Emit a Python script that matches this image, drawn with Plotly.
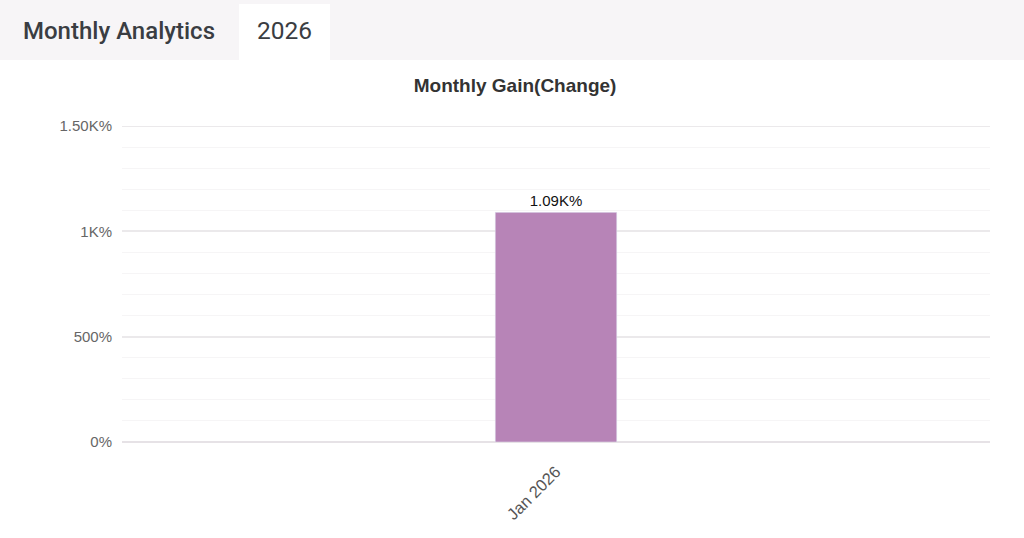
import plotly.graph_objects as go

months = ["Jan 2026"]
gain = [1090]
labels = ["1.09K%"]
tick_vals = [0, 500, 1000, 1500]
tick_text = ["0%", "500%", "1K%", "1.50K%"]

W, H = 1024, 538
L, R, T, B = 122, 34, 126, 96


# pixel -> paper helpers for the header strip
def px_x(p):
    return (p - L) / (W - L - R)


def px_y(p):
    return (H - B - p) / (H - T - B)


fig = go.Figure()
fig.add_trace(go.Bar(
    x=months,
    y=gain,
    text=labels,
    texttemplate="%{text}",
    textposition="outside",
    textfont=dict(family="Arial", size=15, color="#111"),
    marker=dict(color="#b784b7"),
    width=0.14,
    cliponaxis=False,
    hoverinfo="skip",
))

fig.update_layout(
    width=W, height=H,
    margin=dict(l=L, r=R, t=T, b=B),
    paper_bgcolor="white",
    plot_bgcolor="white",
    showlegend=False,
    title=dict(
        text="<b>Monthly Gain(Change)</b>",
        x=0.503, xref="container", xanchor="center",
        y=1 - 85 / H, yref="container", yanchor="middle",
        font=dict(family="Arial", size=19, color="#333"),
    ),
    xaxis=dict(
        type="category",
        tickangle=-45,
        showgrid=False,
        showline=False,
        ticks="",
        ticklabelstandoff=16,
        tickfont=dict(family="Arial", size=16.5, color="#555"),
    ),
    yaxis=dict(
        range=[0, 1500],
        tickvals=tick_vals,
        ticktext=tick_text,
        showgrid=True,
        gridcolor="#ebe9eb",
        gridwidth=2,
        zeroline=True,
        zerolinecolor="#e6e2e6",
        zerolinewidth=2,
        ticks="",
        ticklabelstandoff=9,
        tickfont=dict(family="Arial", size=15, color="#666"),
        minor=dict(dtick=100, showgrid=True, gridcolor="#f6f5f6", gridwidth=1),
    ),
    shapes=[
        dict(type="rect", xref="paper", yref="paper", layer="below",
             x0=px_x(0), x1=px_x(W), y0=px_y(0), y1=px_y(60),
             fillcolor="#f7f5f7", line=dict(width=0)),
        dict(type="rect", xref="paper", yref="paper", layer="below",
             x0=px_x(239), x1=px_x(330), y0=px_y(4), y1=px_y(60),
             fillcolor="white", line=dict(width=0)),
        # plotly skips the grid line on the top edge, so draw it by hand
        dict(type="line", xref="paper", yref="y", layer="below",
             x0=0, x1=1, y0=tick_vals[-1], y1=tick_vals[-1],
             line=dict(color="#ebe9eb", width=2)),
    ],
    annotations=[
        dict(text="Monthly Analytics", xref="paper", yref="paper",
             x=px_x(21), y=px_y(31), xanchor="left", yanchor="middle",
             showarrow=False,
             font=dict(family="Roboto", size=24, weight=500, color="#3a3d42")),
        dict(text="2026", xref="paper", yref="paper",
             x=px_x(284.5), y=px_y(31), xanchor="center", yanchor="middle",
             showarrow=False,
             font=dict(family="Roboto", size=24.5, color="#3a3d42")),
    ],
)

# drop the browser's default body margin so the figure sits at 0,0
fig.write_html("out.html", config={"displayModeBar": False},
               post_script="document.body.style.margin='0';")
